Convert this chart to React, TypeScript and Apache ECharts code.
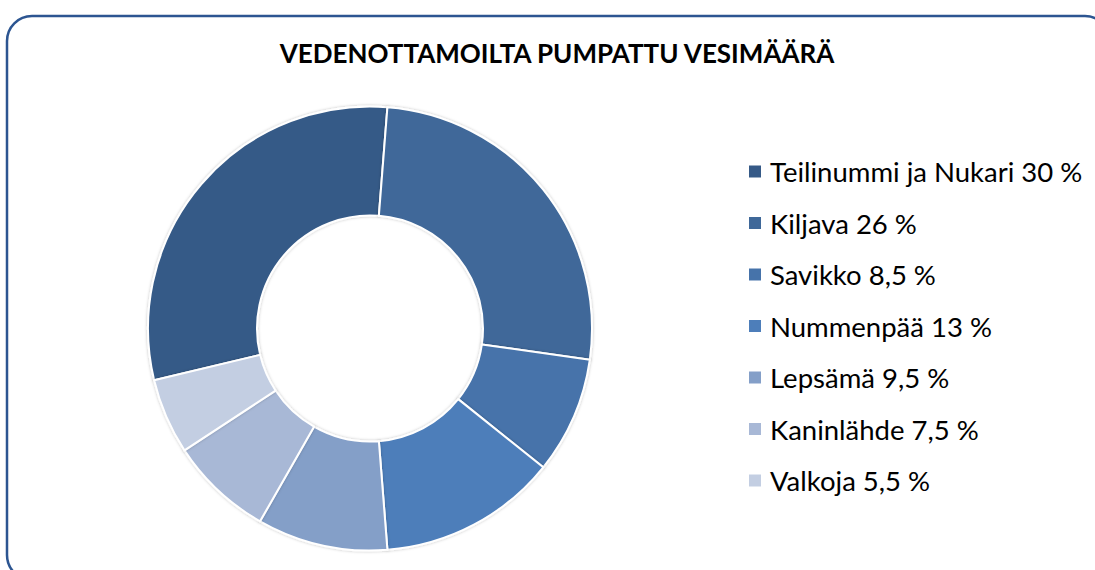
import React, { useEffect, useRef } from "react";
import * as echarts from "echarts";

const titleText = "VEDENOTTAMOILTA PUMPATTU VESIMÄÄRÄ";
const categories = [
  "Teilinummi ja Nukari",
  "Kiljava",
  "Savikko",
  "Nummenpää",
  "Lepsämä",
  "Kaninlähde",
  "Valkoja",
];
const shares = [30, 26, 8.5, 13, 9.5, 7.5, 5.5];
const colors = ["#365A87", "#3F6899", "#4673AA", "#4D7EBA", "#849FC8", "#A8B8D6", "#C3CEE2"];

const FONT = "Lato, 'Noto Sans', sans-serif";

export default function App() {
  const ref = useRef<HTMLDivElement>(null);
  useEffect(() => {
    if (!ref.current) return;
    const chart = echarts.init(ref.current, null, { renderer: "svg" });
    const fmt = (v: number) => String(v).replace(".", ",");
    chart.setOption({
      animation: false,
      backgroundColor: "#ffffff",
      color: colors,
      graphic: [
        {
          type: "rect",
          z: -10,
          silent: true,
          shape: { x: 7, y: 16, width: 1103, height: 564, r: 25 },
          style: { fill: "#ffffff", stroke: "#2C5591", lineWidth: 2.5 },
        },
      ],
      title: {
        text: titleText,
        left: 557,
        top: 40,
        padding: 0,
        textAlign: "center",
        textStyle: { fontFamily: FONT, fontSize: 26, fontWeight: "bold", color: "#000" },
      },
      legend: {
        orient: "vertical",
        left: 747,
        top: 156.5,
        padding: 0,
        icon: "rect",
        itemWidth: 14,
        itemHeight: 14,
        itemGap: 21.5,
        data: categories,
        formatter: (name: string) => {
          const i = categories.indexOf(name);
          return `${name} ${fmt(shares[i])} %`;
        },
        textStyle: {
          fontFamily: FONT,
          fontSize: 27.5,
          lineHeight: 30,
          color: "#000",
          padding: [0, 0, 0, 3],
        },
      },
      series: [
        {
          type: "pie",
          center: [370, 328.5],
          radius: [113, 222],
          startAngle: 193.5,
          clockwise: true,
          label: { show: false },
          labelLine: { show: false },
          itemStyle: {
            borderColor: "#ffffff",
            borderWidth: 2,
            shadowColor: "rgba(0,0,0,0.25)",
            shadowBlur: 3,
          },
          emphasis: { disabled: true },
          data: categories.map((c, i) => ({ name: c, value: shares[i] })),
        },
      ],
    });
    return () => chart.dispose();
  }, []);
  return (
    <div
      ref={ref}
      style={{ position: "fixed", left: 0, top: 0, width: 1095, height: 570 }}
    />
  );
}
